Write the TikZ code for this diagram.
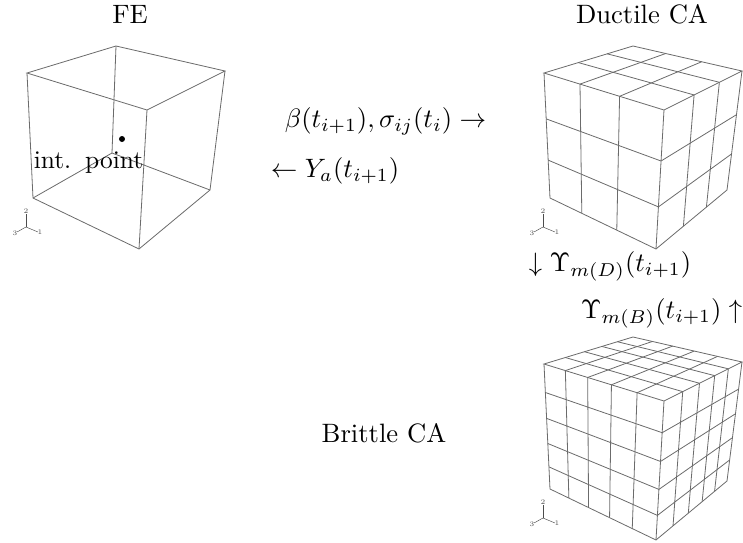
\documentclass[tikz,border=0pt]{standalone}
\usetikzlibrary{calc}

\tikzset{
  meshline/.style={draw=black!58, line width=0.35pt},
  triadline/.style={draw=black!70, line width=0.2pt},
  triadnum/.style={black!70, font=\fontsize{3}{3}\selectfont, inner sep=0pt},
  labeltext/.style={scale=1.15},
}

% outer edges of one cube and its small axis triad
\newcommand{\cubeframe}{%
  \coordinate (tb) at (116,46);
  \coordinate (tl) at (27,73);
  \coordinate (tr) at (225,71);
  \coordinate (tf) at (147,110);
  \coordinate (bl) at (33,198);
  \coordinate (br) at (210,190);
  \coordinate (bf) at (139,249);
  \draw[meshline] (tl) -- (tb) -- (tr) -- (tf) -- cycle;
  \draw[meshline] (tl) -- (bl) -- (bf) -- (br) -- (tr);
  \draw[meshline] (tf) -- (bf);
  \coordinate (ax0) at (26,227);
  \coordinate (ax1) at (38,232);
  \coordinate (ax2) at (26,214);
  \coordinate (ax3) at (17,232);
  \draw[triadline] (ax0) -- (ax1);
  \draw[triadline] (ax0) -- (ax2);
  \draw[triadline] (ax0) -- (ax3);
  \node[triadnum] (n1) at (40,232) {1};
  \node[triadnum] (n2) at (26,211) {2};
  \node[triadnum] (n3) at (15,233) {3};
}

% mesh lines: left face columns, left face rows, right face columns
\newcommand{\cubemesh}[3]{%
  \foreach \f in {#1} {
    \draw[meshline] ($(tl)!\f!(tf)$) -- ($(bl)!\f!(bf)$);
    \draw[meshline] ($(tl)!\f!(tf)$) -- ($(tb)!\f!(tr)$);
  }
  \foreach \f in {#2} {
    \draw[meshline] ($(tl)!\f!(bl)$) -- ($(tf)!\f!(bf)$) -- ($(tr)!\f!(br)$);
  }
  \foreach \f in {#3} {
    \draw[meshline] ($(tf)!\f!(tr)$) -- ($(bf)!\f!(br)$);
    \draw[meshline] ($(tf)!\f!(tr)$) -- ($(tl)!\f!(tb)$);
  }
}

\begin{document}
\begin{tikzpicture}[x=0.0152cm, y=-0.0152cm]
  \useasboundingbox (0,0) rectangle (743,543);

  % FE cube
  \begin{scope}
    \cubeframe
    \coordinate (hb) at (112,153);
    \draw[meshline] (tb) -- (hb);
    \draw[meshline] (bl) -- (hb) -- (br);
  \end{scope}
  \fill (122,139) circle (3);
  \node[scale=1.1] (intpoint) at (88.5,163) {int.\hspace{0.55em}point};

  % Ductile CA cube
  \begin{scope}[shift={(517,0)}]
    \cubeframe
    \cubemesh{.30,.63}{.367,.697}{.386,.71}
  \end{scope}

  % Brittle CA cube
  \begin{scope}[shift={(517,291)}]
    \cubeframe
    \cubemesh{.178,.364,.562,.776}{.228,.435,.636,.823}{.24,.455,.65,.825}
  \end{scope}

  \node[labeltext] (fe) at (130,14) {FE};
  \node[labeltext] (ductile) at (642,14) {Ductile CA};
  \node[labeltext] (brittle) at (384,433) {Brittle CA};
  \node[labeltext] (send) at (385.5,121) {$\beta(t_{i+1}),\sigma_{ij}(t_i)\rightarrow$};
  \node[labeltext] (back) at (335,171) {$\leftarrow Y_a(t_{i+1})$};
  \node[labeltext] (down) at (610,266) {$\downarrow\Upsilon_{m(D)}(t_{i+1})$};
  \node[labeltext] (up) at (661.5,313) {$\Upsilon_{m(B)}(t_{i+1})\uparrow$};
\end{tikzpicture}
\end{document}
